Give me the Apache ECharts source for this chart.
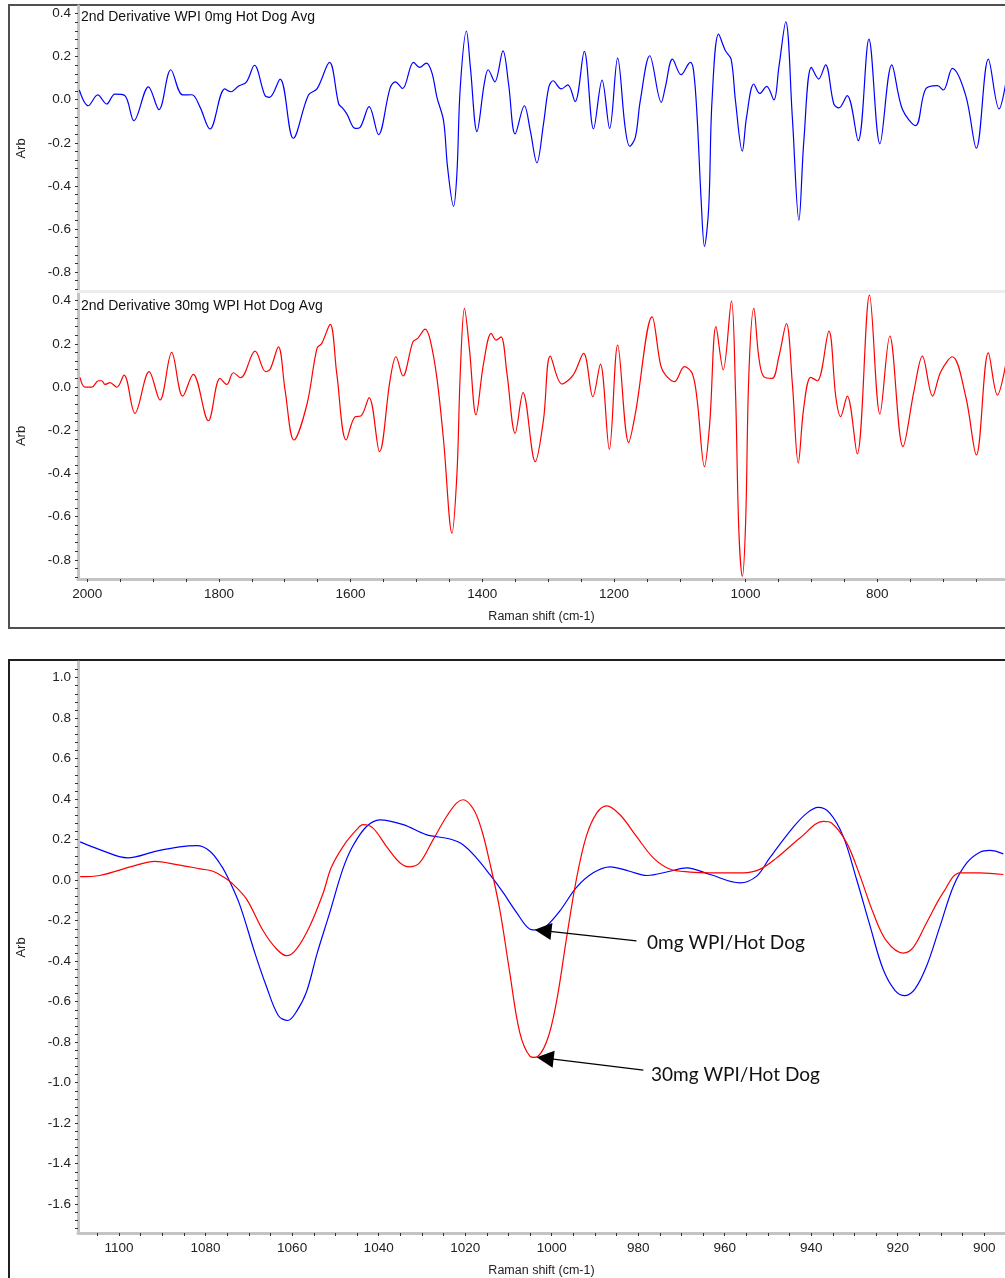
<!DOCTYPE html>
<html>
<head>
<meta charset="utf-8">
<script src="https://cdn.jsdelivr.net/npm/echarts@6/dist/echarts.min.js"></script>
<style>
  html, body { margin: 0; padding: 0; background: #ffffff; }
  #chart { width: 1005px; height: 1278px; }
</style>
</head>
<body>
<div id="chart"></div>
<script>
// ---- Full range 2nd-derivative spectra (Raman shift in cm-1, Arb units) ----
const wpi0Shift = [2012, 1998.5, 1984, 1970.5, 1958, 1943, 1929, 1907, 1891, 1873, 1855, 1841, 1829, 1813.5, 1791, 1782, 1770.5, 1758, 1746, 1730, 1723, 1707, 1687, 1664, 1651, 1632, 1618, 1613, 1605.7, 1593, 1585.5, 1571.8, 1557.6, 1540, 1532, 1521, 1504.4, 1495, 1485, 1476.5, 1468.8, 1458.8, 1452.7, 1443.6, 1438.5, 1433.4, 1424, 1418, 1408, 1397, 1391, 1381, 1368.5, 1360, 1350, 1336, 1327, 1317, 1307, 1299, 1292.5, 1280, 1270, 1259, 1245, 1231, 1218, 1206.5, 1194.4, 1183, 1176, 1167.4, 1160, 1145.6, 1128, 1122, 1111, 1098, 1084, 1079, 1073.6, 1067.5, 1062.5, 1056, 1051, 1041, 1030.6, 1022, 1015.4, 1005, 998.6, 987.5, 978.5, 968, 957, 949.5, 939, 929, 919, 911.5, 900, 889, 878.6, 866, 858.4, 845.7, 829, 812.7, 796, 778, 762, 741.7, 726.5, 708.7, 699.7, 686, 665.6, 649.5, 631.3, 615, 605];
const wpi0Arb = [0.045, -0.028, 0.022, -0.02, 0.026, 0.02, -0.097, 0.06, -0.046, 0.139, 0.022, 0.023, -0.032, -0.136, 0.05, 0.037, 0.062, 0.083, 0.16, 0.019, 0.011, 0.096, -0.179, 0.022, 0.05, 0.173, -0.02, -0.036, -0.066, -0.133, -0.128, -0.032, -0.162, 0.054, 0.083, 0.052, 0.173, 0.15, 0.17, 0.126, 0.011, -0.097, -0.313, -0.495, -0.344, 0.057, 0.319, 0.15, -0.148, 0.073, 0.139, 0.083, 0.227, 0.073, -0.159, -0.028, -0.144, -0.293, -0.113, 0.057, 0.088, 0.05, 0.069, -0.009, 0.224, -0.136, 0.091, -0.133, 0.193, -0.128, -0.216, -0.174, -0.005, 0.204, -0.012, 0.057, 0.188, 0.116, 0.173, 0.134, -0.082, -0.468, -0.681, -0.499, -0.005, 0.304, 0.227, 0.188, -0.005, -0.239, -0.082, 0.073, 0.029, 0.062, -0.001, 0.15, 0.362, -0.082, -0.56, -0.19, 0.15, 0.096, 0.162, -0.02, -0.038, 0.019, -0.19, 0.281, -0.205, 0.162, -0.043, -0.12, 0.05, 0.065, 0.045, 0.145, 0.019, -0.225, 0.188, -0.043, 0.073];

const wpi30Shift = [2011, 2003.5, 1993, 1983, 1978, 1973, 1965.5, 1955, 1944, 1927.5, 1906, 1889.5, 1871.7, 1855, 1839, 1816, 1798.3, 1788, 1778, 1767, 1745, 1729, 1722, 1709.6, 1699.5, 1686, 1666.5, 1651, 1643.7, 1631, 1621, 1606.7, 1593, 1584.4, 1571.8, 1556, 1540, 1531, 1520.5, 1505.3, 1498, 1486.6, 1479, 1468.8, 1458.8, 1446, 1438.4, 1433.4, 1427, 1419.3, 1409.5, 1398, 1386.3, 1379, 1371.5, 1362.5, 1350, 1338, 1319.5, 1307, 1296.6, 1279, 1262, 1246, 1232, 1220.6, 1207, 1194.3, 1177.6, 1167.4, 1142, 1129, 1121.5, 1108, 1093, 1081, 1073.6, 1062.5, 1054.5, 1045, 1034, 1021.5, 1015.4, 1010.3, 1005, 1000, 995, 987.5, 980, 972.5, 959.6, 949.5, 938, 929, 920, 911.5, 901, 891, 873.5, 863, 855.8, 845.6, 830.5, 811.8, 796, 781, 761, 744, 731.5, 716, 703.6, 686, 665.6, 649.5, 631.3, 617.6, 605];
const wpi30Arb = [0.045, 0.0, 0.0, 0.029, 0.029, 0.012, 0.02, -0.001, 0.055, -0.122, 0.071, -0.06, 0.16, -0.042, 0.059, -0.156, 0.04, 0.012, 0.066, 0.043, 0.166, 0.071, 0.083, 0.186, -0.014, -0.245, -0.083, 0.179, 0.202, 0.29, 0.063, -0.245, -0.137, -0.134, -0.049, -0.299, 0.032, 0.14, 0.051, 0.209, 0.225, 0.268, 0.217, 0.04, -0.245, -0.676, -0.399, 0.063, 0.364, 0.171, -0.129, 0.109, 0.248, 0.217, 0.232, 0.063, -0.214, -0.026, -0.345, -0.152, 0.143, 0.014, 0.055, 0.156, -0.045, 0.106, -0.288, 0.194, -0.257, -0.122, 0.325, 0.1, 0.055, 0.025, 0.094, 0.063, -0.06, -0.368, -0.168, 0.279, 0.079, 0.399, -0.014, -0.66, -0.876, -0.63, 0.063, 0.364, 0.14, 0.048, 0.04, 0.14, 0.294, 0.017, -0.352, -0.091, 0.045, 0.029, 0.259, -0.045, -0.137, -0.042, -0.309, 0.425, -0.125, 0.236, -0.276, -0.014, 0.143, -0.042, 0.071, 0.14, -0.045, -0.314, 0.158, -0.037, 0.102];

// ---- 1110-895 cm-1 detail of both spectra ----
const detail0Shift = [1109, 1104.5, 1098, 1091.4, 1086, 1082, 1079, 1076.3, 1074.4, 1072, 1068.6, 1066, 1063.2, 1061, 1059, 1056.7, 1054.2, 1051.3, 1048.3, 1046, 1042.8, 1039.7, 1034.3, 1029, 1023.5, 1020.5, 1017.4, 1014.3, 1011.2, 1008.1, 1005, 1003.5, 1001.2, 998.1, 994.3, 990.4, 986.5, 982, 978, 972.7, 968.8, 963.4, 956.5, 952.6, 949.6, 944, 941, 938.4, 935.7, 932.6, 929.5, 926.4, 923.4, 920.6, 918.3, 916, 913.3, 910.2, 907.1, 904, 901, 898.7, 895.6];
const detail0Arb = [0.189, 0.151, 0.11, 0.143, 0.164, 0.17, 0.143, 0.069, -0.008, -0.128, -0.36, -0.521, -0.668, -0.693, -0.649, -0.553, -0.36, -0.16, 0.053, 0.167, 0.265, 0.298, 0.274, 0.225, 0.203, 0.175, 0.11, 0.028, -0.062, -0.16, -0.242, -0.246, -0.226, -0.152, -0.037, 0.036, 0.066, 0.044, 0.023, 0.044, 0.061, 0.028, -0.013, 0.02, 0.11, 0.265, 0.331, 0.359, 0.331, 0.216, 0.003, -0.226, -0.439, -0.545, -0.57, -0.537, -0.423, -0.226, -0.029, 0.086, 0.138, 0.147, 0.13];

const detail30Shift = [1109, 1104.5, 1096.8, 1091.7, 1086.7, 1081.3, 1078.3, 1076, 1073.6, 1070.5, 1066.7, 1063.6, 1061.3, 1059, 1055.9, 1052.8, 1051, 1048.2, 1045.1, 1043.6, 1041.3, 1038.2, 1035.1, 1032.8, 1030.5, 1027.4, 1024.3, 1022, 1020.5, 1018.1, 1016.2, 1014.3, 1012, 1009.7, 1007.4, 1005, 1003.9, 1001.2, 998.9, 996.6, 994.3, 992, 989.6, 987.3, 984.2, 980.4, 976.5, 972.7, 968, 963.4, 955.7, 951.9, 948, 942.6, 937.2, 935.3, 931.8, 928.7, 925.7, 922.6, 918.7, 916.4, 913.3, 909.5, 905.6, 901, 895.6];
const detail30Arb = [0.017, 0.023, 0.069, 0.093, 0.077, 0.056, 0.044, 0.017, -0.021, -0.095, -0.25, -0.34, -0.373, -0.34, -0.226, -0.062, 0.06, 0.167, 0.249, 0.274, 0.257, 0.167, 0.086, 0.066, 0.086, 0.2, 0.314, 0.38, 0.397, 0.351, 0.249, 0.086, -0.144, -0.455, -0.75, -0.87, -0.875, -0.799, -0.602, -0.291, 0.003, 0.216, 0.331, 0.367, 0.323, 0.216, 0.11, 0.055, 0.04, 0.036, 0.036, 0.053, 0.11, 0.208, 0.29, 0.282, 0.184, 0.02, -0.16, -0.3, -0.36, -0.332, -0.209, -0.062, 0.036, 0.036, 0.028];

// ---- axis labels ----
const overviewShiftLabels = [2000, 1800, 1600, 1400, 1200, 1000, 800];
const overviewArbLabels = [0.4, 0.2, 0.0, -0.2, -0.4, -0.6, -0.8];
const detailShiftLabels = [1100, 1080, 1060, 1040, 1020, 1000, 980, 960, 940, 920, 900];
const detailArbLabels = [1.0, 0.8, 0.6, 0.4, 0.2, 0.0, -0.2, -0.4, -0.6, -0.8, -1.0, -1.2, -1.4, -1.6];

// ---- text ----
const panelTitle0 = '2nd Derivative WPI 0mg Hot Dog Avg';
const panelTitle30 = '2nd Derivative 30mg WPI Hot Dog Avg';
const note0 = '0mg WPI/Hot Dog';
const note30 = '30mg WPI/Hot Dog';
const shiftName = 'Raman shift (cm-1)';
const arbName = 'Arb';

const BLUE = '#0000ff';
const RED = '#ff0000';
const FONT = '"Liberation Sans", Arial, sans-serif';

function pairs(xs, ys) { return xs.map((x, i) => [x, ys[i]]); }
function steps(from, to, step) {
  const out = [];
  const n = Math.round((to - from) / step);
  for (let i = 0; i <= n; i++) out.push(+(from + i * step).toFixed(4));
  return out;
}

function yAxis(gridIndex, min, max, labels, ticks) {
  return {
    type: 'value', gridIndex, min, max,
    name: arbName, nameLocation: 'middle', nameRotate: 90, nameGap: 50,
    nameTextStyle: { fontFamily: FONT, fontSize: 13, color: '#222' },
    axisLine: { show: true, onZero: false, lineStyle: { color: '#c4c4c4', width: 3 } },
    axisTick: { show: true, length: 3, customValues: ticks, lineStyle: { color: '#333', width: 1 } },
    axisLabel: { customValues: labels, formatter: v => v.toFixed(1), fontFamily: FONT, fontSize: 13.5, color: '#222', margin: 7 },
    splitLine: { show: false }
  };
}

function xAxis(gridIndex, min, max, labels, ticks) {
  return {
    type: 'value', gridIndex, min, max, inverse: true,
    name: shiftName, nameLocation: 'middle', nameGap: 31,
    nameTextStyle: { fontFamily: FONT, fontSize: 12.5, color: '#222' },
    axisLine: { show: true, onZero: false, lineStyle: { color: '#c4c4c4', width: 3 } },
    axisTick: { show: true, length: 3, customValues: ticks, lineStyle: { color: '#333', width: 1 } },
    axisLabel: { customValues: labels, formatter: v => String(v), fontFamily: FONT, fontSize: 13.5, color: '#222', margin: 8 },
    splitLine: { show: false }
  };
}

const overviewMin = -0.888, overviewMax = 0.435;
const overviewYTicks = steps(-0.88, 0.4, 0.04);

// callout line from the note text to the minimum it describes
function arrowLine(from, to) {
  return {
    silent: true, symbol: ['none', 'triangle'], symbolSize: 17,
    label: { show: false },
    lineStyle: { color: '#000', width: 1.3, type: 'solid' },
    data: [[{ coord: from }, { coord: to }]]
  };
}

const option = {
  animation: false,
  backgroundColor: '#ffffff',
  grid: [
    { left: 78, top: 6, width: 927, height: 285 },
    { left: 78, top: 293, width: 927, height: 286 },
    { left: 78, top: 662, width: 927, height: 573 }
  ],
  xAxis: [
    {
      type: 'value', gridIndex: 0, min: 606, max: 2014, inverse: true,
      axisLine: { show: true, onZero: false, lineStyle: { color: '#ececec', width: 3 } },
      axisTick: { show: false }, axisLabel: { show: false }, splitLine: { show: false }
    },
    xAxis(1, 606, 2014, overviewShiftLabels, steps(650, 2000, 50)),
    xAxis(2, 895.2, 1109.5, detailShiftLabels, steps(900, 1105, 5))
  ],
  yAxis: [
    yAxis(0, overviewMin, overviewMax, overviewArbLabels, overviewYTicks),
    yAxis(1, overviewMin, overviewMax, overviewArbLabels, overviewYTicks),
    yAxis(2, -1.742, 1.077, detailArbLabels, steps(-1.72, 1.04, 0.04))
  ],
  series: [
    {
      type: 'line', xAxisIndex: 0, yAxisIndex: 0, data: pairs(wpi0Shift, wpi0Arb),
      smooth: 0.35, showSymbol: false, lineStyle: { color: BLUE, width: 1.2 }
    },
    {
      type: 'line', xAxisIndex: 1, yAxisIndex: 1, data: pairs(wpi30Shift, wpi30Arb),
      smooth: 0.35, showSymbol: false, lineStyle: { color: RED, width: 1.2 }
    },
    {
      type: 'line', xAxisIndex: 2, yAxisIndex: 2, data: pairs(detail0Shift, detail0Arb),
      smooth: 0.35, showSymbol: false, lineStyle: { color: BLUE, width: 1.2 },
      markLine: arrowLine([980.4, -0.300], [1002.0, -0.249])
    },
    {
      type: 'line', xAxisIndex: 2, yAxisIndex: 2, data: pairs(detail30Shift, detail30Arb),
      smooth: 0.35, showSymbol: false, lineStyle: { color: RED, width: 1.2 },
      markLine: arrowLine([978.8, -0.938], [1001.5, -0.879])
    }
  ],
  graphic: [
    { type: 'rect', z: 0, shape: { x: 9, y: 5, width: 1010, height: 623 }, style: { fill: 'none', stroke: '#505050', lineWidth: 2 } },
    { type: 'rect', z: 0, shape: { x: 9, y: 660, width: 1010, height: 700 }, style: { fill: 'none', stroke: '#202020', lineWidth: 2 } },
    { type: 'text', z: 10, x: 81, y: 17, style: { text: panelTitle0, font: '14px ' + FONT, fill: '#111', verticalAlign: 'middle' } },
    { type: 'text', z: 10, x: 81, y: 306, style: { text: panelTitle30, font: '14px ' + FONT, fill: '#111', verticalAlign: 'middle' } },
    { type: 'text', z: 10, x: 647, y: 943, style: { text: note0, font: '19px Lato, "Open Sans", sans-serif', fill: '#111', verticalAlign: 'middle' } },
    { type: 'text', z: 10, x: 651, y: 1075, style: { text: note30, font: '19px Lato, "Open Sans", sans-serif', fill: '#111', verticalAlign: 'middle' } }
  ]
};

const chart = echarts.init(document.getElementById('chart'), null, { renderer: 'canvas', width: 1005, height: 1278 });
chart.setOption(option);
</script>
</body>
</html>
